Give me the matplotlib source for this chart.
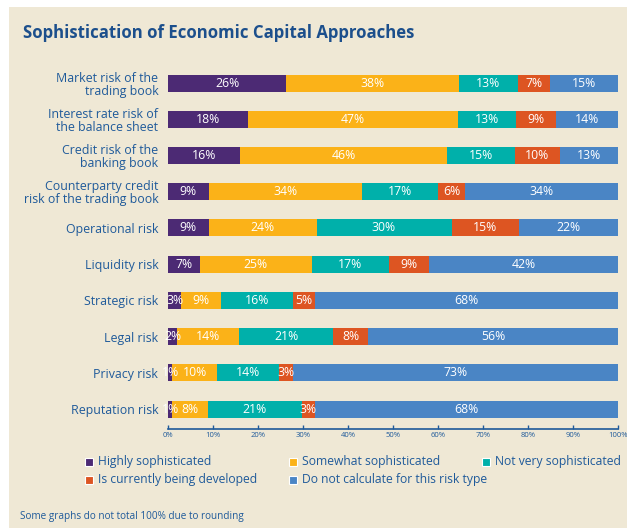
import matplotlib.pyplot as plt
from matplotlib.patches import Rectangle
from matplotlib.lines import Line2D

plt.rcParams['font.family'] = ['Open Sans', 'DejaVu Sans']

risks = ['Market risk of the\ntrading book',
         'Interest rate risk of\nthe balance sheet',
         'Credit risk of the\nbanking book',
         'Counterparty credit\nrisk of the trading book',
         'Operational risk',
         'Liquidity risk',
         'Strategic risk',
         'Legal risk',
         'Privacy risk',
         'Reputation risk']

highly = [26, 18, 16, 9, 9, 7, 3, 2, 1, 1]
somewhat = [38, 47, 46, 34, 24, 25, 9, 14, 10, 8]
not_very = [13, 13, 15, 17, 30, 17, 16, 21, 14, 21]
developing = [7, 9, 10, 6, 15, 9, 5, 8, 3, 3]
not_calc = [15, 14, 13, 34, 22, 42, 68, 56, 73, 68]

series = [highly, somewhat, not_very, developing, not_calc]
names = ['Highly sophisticated', 'Somewhat sophisticated', 'Not very sophisticated',
         'Is currently being developed', 'Do not calculate for this risk type']
colors = ['#4C2A74', '#FBB218', '#00B0AA', '#DD5522', '#4A85C5']

ticks = [0, 10, 20, 30, 40, 50, 60, 70, 80, 90, 100]

blue = '#1F5A9A'
bg = '#EFE8D5'

fig = plt.figure(figsize=(6.27, 5.31), dpi=100)
fig.patch.set_facecolor('white')
fig.patches.append(Rectangle((9 / 627, 3 / 531), 618 / 627, 521 / 531,
                             transform=fig.transFigure, facecolor=bg,
                             edgecolor='none', zorder=-10))

ax = fig.add_axes([168 / 627, 1 - 429 / 531, 450 / 627, (429 - 65) / 531])
ax.set_facecolor('none')

# rounded shares don't always add to 100, so scale each row to fill the bar
totals = [sum(v) for v in zip(*series)]
rows = list(range(len(risks)))
left = [0] * len(risks)
for vals, col in zip(series, colors):
    widths = [v / t * 100 for v, t in zip(vals, totals)]
    ax.barh(rows, widths, left=left, height=0.47, color=col, edgecolor='none')
    for r, v, w, l in zip(rows, vals, widths, left):
        ax.text(l + w / 2, r, f'{v}%', ha='center', va='center',
                color='white', fontsize=8.8)
    left = [l + w for l, w in zip(left, widths)]

ax.set_xlim(0, 100)
ax.set_ylim(9.55, -0.5)
ax.set_yticks(rows)
ax.set_yticklabels(risks, color=blue, fontsize=8.9, linespacing=1.0)
ax.tick_params(axis='y', length=0, pad=7)
ax.set_xticks(ticks)
ax.set_xticklabels([f'{t}%' for t in ticks], fontsize=5.5, color=blue)
ax.tick_params(axis='x', direction='in', length=3, width=1, color=blue, pad=2)
for s in ['top', 'right', 'left']:
    ax.spines[s].set_visible(False)
ax.spines['bottom'].set_color(blue)
ax.spines['bottom'].set_linewidth(1.2)

fig.text(23 / 627, 1 - 33 / 531, 'Sophistication of Economic Capital Approaches',
         fontsize=12.1, fontweight='bold', color='#1C4F8C', va='center')

# legend laid out in two rows with fixed column starts
legend_x = [89, 293, 486, 89, 293]
legend_y = [462, 462, 462, 480, 480]
for name, col, x, y in zip(names, colors, legend_x, legend_y):
    fig.add_artist(Line2D([x / 627], [1 - y / 531], transform=fig.transFigure,
                          marker='s', markersize=6, linestyle='none',
                          markerfacecolor=col, markeredgecolor='white',
                          markeredgewidth=0.8))
    fig.text((x + 9) / 627, 1 - y / 531, name, fontsize=8.7, color=blue,
             va='center')

fig.text(20 / 627, 1 - 517 / 531, 'Some graphs do not total 100% due to rounding',
         fontsize=7.2, color=blue, va='center')

fig.savefig('out.png', dpi=100)
